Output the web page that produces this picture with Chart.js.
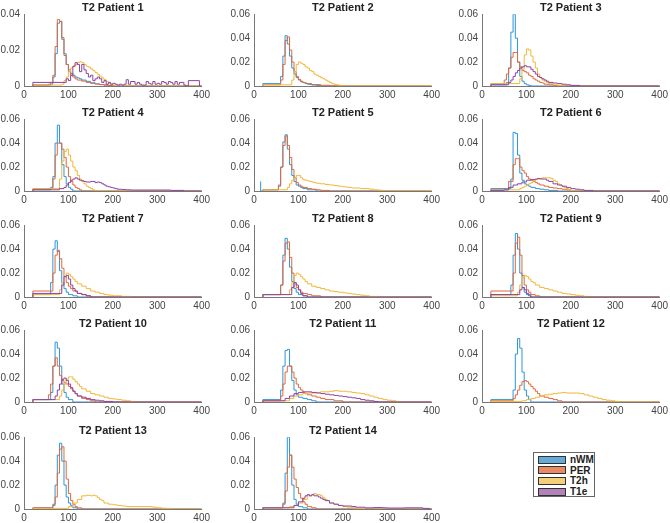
<!DOCTYPE html>
<html>
<head>
<meta charset="utf-8">
<script src="https://cdn.jsdelivr.net/npm/chart.js@4"></script>
<style>
  body { margin: 0; background: #fff; width: 670px; height: 523px; position: relative; overflow: hidden;
         font-family: "Liberation Sans", Arial, sans-serif; }
  canvas.panel { position: absolute; }
  #legend { position: absolute; left: 533px; top: 452px; width: 60px; height: 43px;
            border: 1px solid #666; background: #fff; }
  #legend .row { position: absolute; left: 4px; height: 11px; display: flex; align-items: center; }
  #legend .patch { width: 26px; height: 6px; border: 1px solid #333; margin-right: 4px; }
  #legend .lbl { font-size: 10px; font-weight: bold; color: #222; }
</style>
</head>
<body>
<div id="legend"></div>
<script>
// histogram data: flat [binLeftEdge, probability, ...] per patient
const patients = ["T2 Patient 1", "T2 Patient 2", "T2 Patient 3", "T2 Patient 4", "T2 Patient 5",
  "T2 Patient 6", "T2 Patient 7", "T2 Patient 8", "T2 Patient 9", "T2 Patient 10",
  "T2 Patient 11", "T2 Patient 12", "T2 Patient 13", "T2 Patient 14"];
const yMax = [0.04, 0.06, 0.06, 0.06, 0.06, 0.06, 0.06, 0.06, 0.06, 0.06, 0.06, 0.06, 0.06, 0.06];
const xTicks = [0, 100, 200, 300, 400];
const seriesNames = ["nWM", "PER", "T2h", "T1e"];

const nWM = [
  [60,.0005, 65,.001, 70,.005, 75,.018, 80,.035, 85,.036, 90,.026, 95,.018, 100,.012, 105,.009, 110,.007, 115,.006, 120,.005, 125,.0045, 130,.004, 140,.0033, 150,.0026, 160,.0018, 170,.0012, 180,.0008, 190,.0005, 200,.0003, 210,0],
  [60,.002, 65,.008, 70,.025, 75,.042, 80,.035, 85,.025, 90,.015, 95,.01, 100,.007, 105,.005, 110,.0035, 115,.0028, 120,.002, 125,.0015, 130,.0012, 140,.0008, 150,.0005, 170,0],
  [55,.001, 60,.003, 65,.015, 70,.045, 75,.06, 80,.04, 85,.02, 90,.008, 95,.004, 100,.002, 105,.001, 110,.0005, 120,0],
  [60,.001, 65,.003, 70,.012, 75,.04, 80,.055, 85,.04, 90,.022, 95,.012, 100,.006, 105,.003, 110,.0015, 120,0],
  [15,.008, 20,0, 55,.001, 60,.004, 65,.02, 70,.041, 75,.047, 80,.035, 85,.022, 90,.013, 95,.008, 100,.005, 105,.004, 110,.003, 120,.002, 140,.001, 160,0],
  [65,.002, 70,.01, 75,.049, 80,.048, 85,.03, 90,.015, 95,.009, 100,.006, 105,.005, 110,.004, 120,.003, 130,.002, 140,.0015, 150,.001, 170,.0005, 180,0],
  [60,.002, 65,.012, 70,.04, 75,.047, 80,.038, 85,.022, 90,.012, 95,.007, 100,.004, 110,.002, 120,.001, 130,0],
  [60,.002, 65,.01, 70,.035, 75,.049, 80,.04, 85,.025, 90,.013, 95,.007, 100,.004, 110,.002, 120,.001, 130,0],
  [65,.002, 70,.01, 75,.035, 80,.053, 85,.04, 90,.02, 95,.008, 100,.004, 110,.002, 120,0],
  [60,.002, 65,.008, 70,.03, 75,.05, 80,.045, 85,.03, 90,.015, 95,.008, 100,.004, 110,.002, 120,0],
  [60,.002, 65,.01, 70,.03, 75,.043, 80,.044, 85,.03, 90,.018, 95,.01, 100,.006, 110,.004, 120,.003, 130,.002, 140,.001, 160,0],
  [70,.002, 75,.01, 80,.04, 85,.053, 90,.045, 95,.025, 100,.01, 105,.005, 110,.002, 120,0],
  [65,.001, 70,.004, 75,.02, 80,.045, 85,.055, 90,.04, 95,.02, 100,.01, 105,.005, 110,.003, 120,.001, 130,0],
  [65,.001, 70,.005, 75,.03, 80,.06, 85,.045, 90,.02, 95,.008, 100,.004, 110,.002, 120,.001, 130,0]
];

const PER = [
  [55,.0005, 60,.001, 65,.002, 70,.006, 75,.022, 80,.037, 85,.036, 90,.027, 95,.017, 100,.012, 105,.008, 110,.006, 115,.005, 120,.004, 130,.0033, 140,.0027, 150,.002, 160,.0015, 170,.0011, 180,.0008, 190,.0005, 200,.0003, 210,0],
  [60,.001, 65,.005, 70,.018, 75,.038, 80,.041, 85,.03, 90,.02, 95,.012, 100,.008, 105,.0055, 110,.004, 115,.003, 120,.0025, 130,.002, 150,.0012, 170,.0006, 200,.0002, 210,0],
  [50,.002, 55,.005, 60,.01, 65,.015, 70,.024, 75,.028, 80,.028, 85,.02, 90,.016, 95,.013, 100,.012, 105,.011, 110,.009, 115,.008, 120,.006, 125,.005, 130,.004, 135,.003, 140,.0025, 150,.0015, 160,.001, 180,.0005, 200,0],
  [65,.002, 70,.01, 75,.03, 80,.04, 85,.04, 90,.035, 95,.028, 100,.02, 105,.012, 110,.008, 115,.005, 120,.003, 125,.002, 130,.001, 140,0],
  [55,.001, 60,.005, 65,.02, 70,.038, 75,.046, 80,.038, 85,.028, 90,.018, 95,.011, 100,.007, 105,.005, 110,.004, 120,.003, 130,.002, 140,.0015, 150,.001, 170,.0005, 180,0],
  [60,.001, 70,.008, 75,.022, 80,.027, 85,.027, 90,.02, 95,.017, 100,.015, 105,.012, 110,.01, 115,.009, 120,.008, 125,.007, 130,.006, 140,.005, 150,.004, 160,.003, 170,.0025, 180,.002, 190,.0015, 200,.001, 220,0],
  [65,.005, 70,.02, 75,.035, 80,.039, 85,.032, 90,.024, 95,.017, 100,.012, 105,.009, 110,.007, 120,.005, 130,.003, 140,.002, 150,.001, 170,0],
  [60,.002, 65,.01, 70,.03, 75,.045, 80,.046, 85,.033, 90,.02, 95,.012, 100,.008, 105,.006, 110,.004, 120,.003, 130,.002, 150,.001, 170,0],
  [70,.005, 75,.02, 80,.045, 85,.05, 90,.035, 95,.018, 100,.01, 105,.006, 110,.004, 120,.002, 130,.001, 150,0],
  [55,.002, 60,.006, 65,.015, 70,.03, 75,.037, 80,.03, 85,.022, 90,.018, 95,.016, 100,.015, 105,.013, 110,.011, 115,.009, 120,.007, 130,.005, 140,.003, 150,.002, 160,.001, 180,0],
  [60,.001, 65,.005, 70,.015, 75,.025, 80,.03, 85,.03, 90,.025, 95,.02, 100,.015, 105,.012, 110,.01, 115,.008, 120,.007, 130,.006, 140,.005, 150,.004, 160,.003, 180,.002, 200,.001, 220,0],
  [70,.001, 75,.003, 80,.006, 85,.01, 90,.014, 95,.017, 100,.018, 105,.017, 110,.015, 115,.013, 120,.011, 125,.009, 130,.007, 140,.005, 150,.004, 160,.003, 170,.002, 180,.001, 200,0],
  [65,.001, 70,.003, 75,.01, 80,.03, 85,.05, 90,.052, 95,.04, 100,.025, 105,.013, 110,.007, 115,.004, 120,.002, 130,.001, 140,0],
  [65,.001, 70,.004, 75,.015, 80,.035, 85,.045, 90,.035, 95,.025, 100,.018, 105,.013, 110,.009, 115,.006, 120,.004, 130,.002, 140,.001, 160,0]
];

const T2h = [
  [85,.0005, 90,.001, 95,.003, 100,.005, 105,.008, 110,.01, 115,.011, 120,.012, 125,.013, 130,.0135, 135,.013, 140,.012, 145,.011, 150,.0105, 155,.0095, 160,.0085, 165,.0075, 170,.0065, 175,.0055, 180,.0045, 185,.0035, 190,.0025, 195,.0015, 200,.001, 205,.0005, 210,.0002, 215,0],
  [85,.001, 90,.005, 95,.012, 100,.018, 105,.02, 110,.019, 115,.018, 120,.016, 125,.015, 130,.013, 135,.012, 140,.01, 145,.009, 150,.008, 155,.007, 160,.006, 165,.005, 170,.004, 175,.003, 180,.002, 185,.0015, 190,.001, 195,.0007, 200,.0004, 205,0],
  [85,.002, 90,.006, 95,.014, 100,.026, 105,.031, 110,.03, 115,.025, 120,.02, 125,.015, 130,.01, 135,.007, 140,.005, 145,.004, 150,.003, 160,.002, 170,.001, 190,.0005, 210,0],
  [80,.002, 85,.01, 90,.025, 95,.033, 100,.035, 105,.03, 110,.025, 115,.02, 120,.017, 125,.013, 130,.01, 135,.008, 140,.006, 145,.004, 150,.003, 155,.002, 160,.001, 170,0],
  [75,.001, 80,.003, 85,.006, 90,.009, 95,.011, 100,.013, 105,.013, 110,.011, 115,.0095, 120,.009, 125,.0085, 130,.008, 135,.0075, 140,.007, 150,.0065, 160,.006, 170,.0055, 180,.005, 190,.0045, 200,.004, 210,.0035, 220,.003, 240,.0025, 260,.002, 270,.0015, 280,.001, 290,.0007, 300,0],
  [85,.001, 90,.002, 95,.003, 100,.004, 105,.005, 110,.006, 115,.007, 120,.0085, 125,.0095, 130,.01, 135,.0105, 140,.011, 155,.011, 160,.0105, 165,.009, 170,.008, 175,.006, 180,.005, 185,.004, 190,.003, 195,.002, 200,.001, 205,.0005, 210,0],
  [80,.002, 85,.006, 90,.012, 95,.017, 100,.02, 105,.019, 110,.017, 115,.015, 120,.013, 130,.011, 140,.009, 150,.007, 160,.005, 170,.004, 180,.003, 190,.002, 200,.0015, 220,.001, 240,.0005, 250,0],
  [80,.002, 85,.006, 90,.012, 95,.018, 100,.02, 105,.019, 110,.017, 115,.015, 120,.013, 130,.011, 140,.009, 150,.008, 160,.007, 170,.006, 180,.005, 190,.0045, 200,.004, 210,.0035, 220,.003, 230,.0025, 240,.002, 250,.0015, 260,.001, 280,.0005, 300,0],
  [80,.001, 85,.004, 90,.01, 95,.016, 100,.018, 105,.017, 110,.015, 115,.013, 120,.012, 130,.01, 140,.008, 150,.007, 160,.006, 170,.005, 180,.004, 190,.003, 200,.0025, 210,.002, 220,.0015, 230,.001, 240,.0005, 250,0],
  [80,.002, 85,.005, 90,.01, 95,.015, 100,.019, 105,.021, 110,.021, 115,.019, 120,.017, 125,.015, 130,.013, 140,.011, 150,.009, 160,.007, 170,.006, 180,.005, 190,.004, 200,.003, 210,.0025, 220,.002, 230,.0015, 240,.001, 250,.0005, 260,0],
  [80,.001, 90,.003, 100,.005, 110,.006, 120,.007, 140,.0075, 150,.008, 170,.0085, 180,.009, 190,.0095, 210,.009, 220,.0085, 230,.008, 240,.0075, 250,.007, 260,.006, 270,.005, 280,.004, 290,.003, 300,.002, 310,.0015, 320,.001, 330,.0005, 340,0],
  [90,.0005, 100,.001, 110,.002, 120,.003, 130,.004, 140,.005, 150,.006, 160,.0065, 170,.007, 180,.0075, 190,.008, 220,.0075, 230,.007, 240,.006, 250,.005, 260,.004, 270,.003, 280,.002, 290,.0015, 300,.001, 310,.0005, 320,0],
  [100,.0005, 110,.002, 120,.005, 130,.008, 140,.011, 150,.0115, 155,.011, 160,.0115, 165,.011, 170,.0095, 175,.008, 180,.007, 190,.005, 200,.004, 210,.0035, 220,.003, 230,.0025, 290,.002, 300,.0015, 310,.001, 320,.0007, 330,.0005, 340,0],
  [80,.001, 90,.002, 100,.003, 110,.005, 120,.008, 130,.011, 135,.012, 140,.013, 150,.012, 155,.011, 160,.0095, 165,.008, 170,.007, 180,.005, 190,.004, 200,.003, 210,.002, 220,.0015, 230,.001, 250,.0005, 270,0]
];

const T1e = [
  [95,.002, 100,.004, 105,.003, 110,.006, 115,.011, 120,.013, 125,.012, 130,.008, 135,.012, 140,.009, 145,.007, 150,.005, 155,.006, 160,.003, 165,.004, 170,.005, 175,.004, 180,.002, 185,.003, 190,.001, 195,.002, 200,.001, 205,.0015, 210,.001, 215,.0005, 220,.001, 225,.0005, 230,.001, 235,.0035, 240,.001, 250,.0025, 255,.001, 260,.002, 265,.001, 275,.0005, 280,.0025, 285,.0015, 290,.001, 295,.0025, 300,.001, 305,.0015, 310,.001, 315,.0025, 320,.002, 325,.001, 330,.0025, 335,.002, 340,.001, 345,.0025, 350,.001, 360,.002, 365,.0005, 370,0, 395,.003],
  [],
  [60,.001, 65,.003, 70,.005, 75,.008, 80,.011, 85,.013, 90,.015, 95,.016, 100,.017, 110,.016, 115,.014, 120,.012, 125,.01, 130,.008, 135,.007, 140,.006, 145,.005, 150,.004, 160,.003, 170,.0025, 180,.002, 190,.0015, 200,.001, 220,.0005, 250,0],
  [80,.001, 90,.002, 95,.003, 100,.005, 105,.007, 110,.009, 115,.01, 120,.011, 125,.01, 130,.009, 135,.0085, 140,.008, 150,.0075, 160,.008, 165,.007, 170,.0075, 175,.007, 180,.006, 185,.005, 190,.004, 195,.0035, 200,.003, 205,.0025, 210,.002, 220,.0015, 230,.0012, 240,.001, 330,.0008, 360,.0005, 400,0],
  [],
  [50,.0005, 60,.001, 70,.003, 80,.005, 90,.006, 100,.0075, 110,.009, 120,.0095, 125,.01, 130,.0105, 145,.01, 150,.009, 160,.008, 170,.006, 180,.005, 190,.004, 200,.003, 210,.002, 220,.0015, 230,.001, 250,.0005, 260,0],
  [85,.003, 90,.01, 95,.017, 100,.018, 105,.015, 110,.01, 115,.007, 120,.005, 130,.003, 140,.002, 150,.001, 160,0],
  [85,.002, 90,.008, 95,.012, 100,.01, 105,.006, 110,.003, 120,.001, 130,0],
  [85,.002, 90,.006, 95,.008, 100,.006, 105,.003, 110,.001, 120,0],
  [70,.002, 75,.005, 80,.01, 85,.015, 90,.019, 95,.02, 100,.018, 105,.015, 110,.012, 115,.009, 120,.007, 130,.005, 140,.004, 150,.003, 160,.002, 170,.0015, 180,.001, 200,.0005, 220,0],
  [70,.001, 80,.003, 90,.005, 100,.007, 110,.008, 130,.0085, 140,.008, 150,.0075, 160,.007, 170,.0065, 180,.006, 190,.0055, 200,.005, 210,.0045, 220,.004, 230,.0035, 240,.003, 250,.002, 260,.0015, 270,.001, 280,.0005, 290,0],
  [],
  [],
  [90,.001, 100,.003, 110,.006, 115,.009, 120,.011, 125,.012, 130,.011, 135,.012, 145,.011, 150,.01, 155,.009, 160,.008, 170,.007, 180,.005, 190,.004, 200,.003, 220,.0025, 230,.002, 250,.0015, 270,.001, 290,.0012, 300,.001, 340,.0008, 380,.001, 395,.0005, 400,0]
];

const lineColors = ["#2e95d8", "#e2683a", "#f0b83a", "#8c44a0"];
const patchColors = ["#66aad7", "#e88a63", "#f4d079", "#b282bb"];

// layout of the 3 x 5 grid (plot-area edges in px)
const colLeft = [24, 254, 482];
const rowTop = [14, 119, 225, 330, 437];
const plotW = 179, plotH = 72;
const axW = 30, titleH = 15, axH = 16, padR = 10;
const font = '"Liberation Sans", Arial, sans-serif';

function toSteps(flat, xMax) {
  const pts = [];
  if (flat[0] > 20) pts.push({ x: 20, y: 0 });
  for (let i = 0; i < flat.length; i += 2) pts.push({ x: flat[i], y: flat[i + 1] });
  pts.push({ x: xMax, y: 0 });
  return pts;
}

const allSeries = [nWM, PER, T2h, T1e];

patients.forEach((name, i) => {
  const col = i % 3, row = Math.floor(i / 3);
  const cv = document.createElement("canvas");
  cv.className = "panel";
  cv.width = axW + plotW + padR;
  cv.height = titleH + plotH + axH;
  cv.style.left = (colLeft[col] - axW) + "px";
  cv.style.top = (rowTop[row] - titleH) + "px";
  document.body.appendChild(cv);

  const datasets = [];
  allSeries.forEach((s, k) => {
    if (!s[i].length) return;
    datasets.push({
      label: seriesNames[k],
      data: toSteps(s[i], xTicks[xTicks.length - 1]),
      stepped: "after",
      borderColor: lineColors[k],
      borderWidth: 1,
      pointRadius: 0,
      fill: false,
      order: 4 - k
    });
  });

  new Chart(cv, {
    type: "line",
    data: { datasets },
    options: {
      responsive: false,
      animation: false,
      devicePixelRatio: 1,
      layout: { autoPadding: false, padding: { left: 0, right: padR, top: 0, bottom: 0 } },
      plugins: {
        legend: { display: false },
        tooltip: { enabled: false },
        title: {
          display: true, text: name, color: "#222", fullSize: false,
          font: { family: font, size: 11, weight: "bold", lineHeight: 1.2 },
          padding: { top: 2, bottom: 0 }
        }
      },
      scales: {
        x: {
          type: "linear", min: xTicks[0], max: xTicks[xTicks.length - 1],
          afterBuildTicks: sc => { sc.ticks = xTicks.map(v => ({ value: v })); },
          afterFit: sc => { sc.height = axH; },
          grid: { display: false, drawTicks: false },
          border: { display: true, color: "#777", width: 1 },
          ticks: { color: "#444", padding: 3, font: { family: font, size: 10 }, maxRotation: 0 }
        },
        y: {
          min: 0, max: yMax[i],
          ticks: {
            stepSize: 0.02, color: "#444", padding: 4, font: { family: font, size: 10 },
            callback: v => v === 0 ? "0" : v.toFixed(2)
          },
          afterFit: sc => { sc.width = axW; },
          grid: { display: false, drawTicks: false },
          border: { display: true, color: "#777", width: 1 }
        }
      }
    }
  });
});

// legend box
const lg = document.getElementById("legend");
seriesNames.forEach((n, k) => {
  const r = document.createElement("div");
  r.className = "row";
  r.style.top = (1 + k * 10.7) + "px";
  r.innerHTML = '<div class="patch" style="background:' + patchColors[k] + '"></div><span class="lbl">' + n + '</span>';
  lg.appendChild(r);
});
</script>
</body>
</html>
